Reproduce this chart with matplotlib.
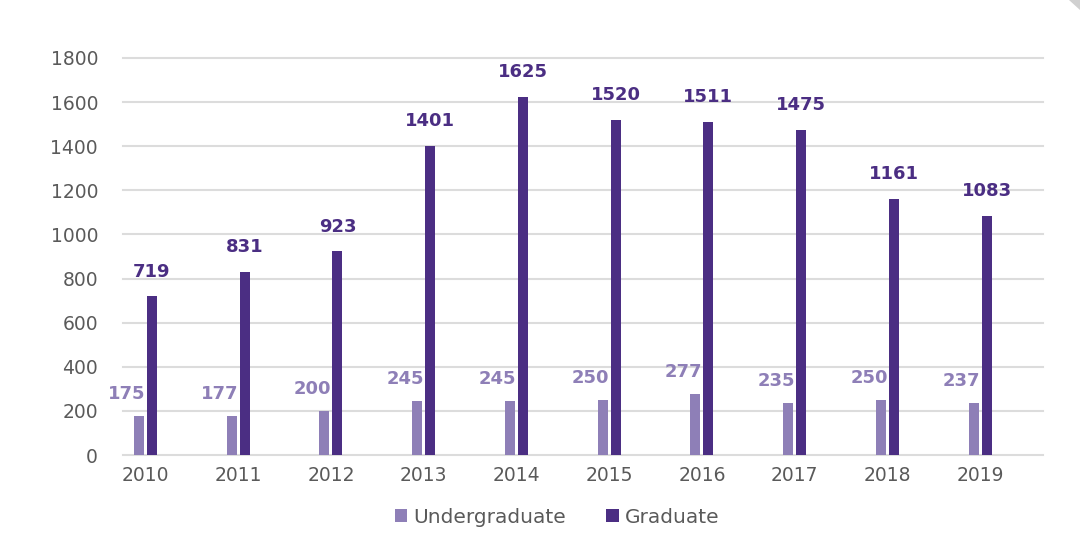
import matplotlib.pyplot as plt
import numpy as np
from matplotlib.patches import Polygon

years = ['2010', '2011', '2012', '2013', '2014', '2015', '2016', '2017', '2018', '2019']
undergrad = [175, 177, 200, 245, 245, 250, 277, 235, 250, 237]
graduate = [719, 831, 923, 1401, 1625, 1520, 1511, 1475, 1161, 1083]

c_ug = '#8e7fb7'
c_gr = '#4b2e83'
c_txt = '#5a5a5a'

plt.rcParams['font.family'] = ['DejaVu Sans']

fig = plt.figure(figsize=(10.8, 5.55), dpi=100)
ax = fig.add_axes([0.114, 0.180, 0.852, 0.7155])

x = np.arange(len(years))
w = 0.108
off = 0.07
ax.bar(x - off, undergrad, w, color=c_ug, label='Undergraduate', zorder=3)
ax.bar(x + off, graduate, w, color=c_gr, label='Graduate', zorder=3)

for i in range(len(years)):
    ax.text(x[i] - off - 0.13, undergrad[i] + 100, str(undergrad[i]), ha='center', va='center',
            fontsize=13, fontweight='bold', color=c_ug)
    ax.text(x[i] + off, graduate[i] + 112, str(graduate[i]), ha='center', va='center',
            fontsize=13, fontweight='bold', color=c_gr)

ax.set_ylim(0, 1800)
ax.set_xlim(-0.24, 9.68)
ax.set_yticks(range(0, 1801, 200))
ax.set_xticks(x)
ax.set_xticklabels(years)
ax.yaxis.grid(True, color='#dcdcdc', linewidth=1.5, zorder=0)
for gl in ax.get_ygridlines():
    gl.set_clip_on(False)
ax.set_axisbelow(True)
for s in ax.spines.values():
    s.set_visible(False)
ax.tick_params(length=0, labelsize=13.5, labelcolor=c_txt)
ax.tick_params(axis='y', pad=18)
ax.tick_params(axis='x', pad=8)

fig.legend(loc='center', bbox_to_anchor=(0.516, 0.068), ncol=2, frameon=False,
           fontsize=14.5, labelcolor=c_txt, handlelength=0.6, handleheight=0.6,
           handletextpad=0.3, columnspacing=2.0)

# page-curl corner at top right
fig.patches.append(Polygon([[0.99, 1.0], [1.0, 1.0], [1.0, 0.982]], closed=True,
                           transform=fig.transFigure, facecolor='#d0d0d0', edgecolor='none'))

fig.savefig('out.png', dpi=100)
